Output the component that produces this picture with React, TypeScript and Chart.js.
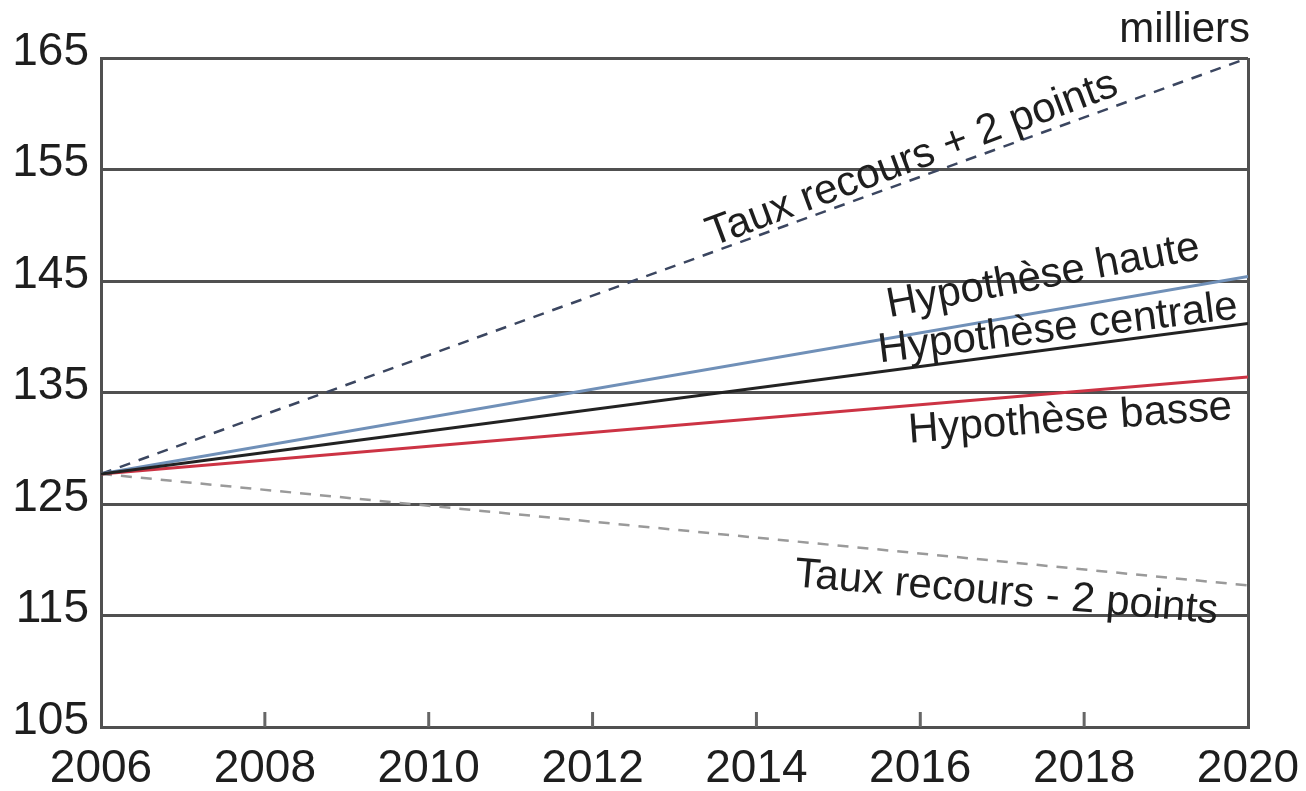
import React, { useEffect, useRef } from "react";
import { Chart, registerables } from "chart.js";

Chart.register(...registerables);

// ---- data ----
const years = [2006, 2020];
const tauxPlus2 = [127.7, 165];
const hypHaute = [127.7, 145.4];
const hypCentrale = [127.7, 141.2];
const hypBasse = [127.7, 136.4];
const tauxMoins2 = [127.7, 117.7];

const yTicks = [105, 115, 125, 135, 145, 155, 165];
const xTicks = [2006, 2008, 2010, 2012, 2014, 2016, 2018, 2020];
const unitLabel = "milliers";

// line annotations (anchor in data coords, angle in degrees)
const lineLabels = [
  { text: "Taux recours + 2 points", year: 2015.9, value: 155.9, angle: -20.5 },
  { text: "Hypothèse haute", year: 2017.5, value: 145.4, angle: -10.6 },
  { text: "Hypothèse centrale", year: 2017.68, value: 140.7, angle: -7 },
  { text: "Hypothèse basse", year: 2017.83, value: 132.6, angle: -4.2 },
  { text: "Taux recours - 2 points", year: 2017.05, value: 117.0, angle: 5 },
];

const FONT = "'Liberation Sans', Arial, sans-serif";
const GRID = "#505050";

const toPts = (vals: number[]) => vals.map((v, i) => ({ x: years[i], y: v }));

const annotationPlugin = {
  id: "annot",
  afterDatasetsDraw(chart: any) {
    const { ctx, scales, chartArea } = chart;
    const xs = scales.x;
    const ys = scales.y;
    ctx.save();
    // inner tick marks on the x axis
    ctx.strokeStyle = "#666";
    ctx.lineWidth = 3;
    xTicks.forEach((t, i) => {
      if (i === 0 || i === xTicks.length - 1) return;
      const px = xs.getPixelForValue(t);
      ctx.beginPath();
      ctx.moveTo(px, chartArea.bottom);
      ctx.lineTo(px, chartArea.bottom - 15);
      ctx.stroke();
    });
    // line labels
    ctx.fillStyle = "#1e1e1e";
    ctx.font = `42px ${FONT}`;
    ctx.textAlign = "center";
    ctx.textBaseline = "middle";
    lineLabels.forEach((l) => {
      const px = xs.getPixelForValue(l.year);
      const py = ys.getPixelForValue(l.value);
      ctx.save();
      ctx.translate(px, py);
      ctx.rotate((l.angle * Math.PI) / 180);
      ctx.fillText(l.text, 0, 0);
      ctx.restore();
    });
    // unit label
    ctx.textAlign = "right";
    ctx.textBaseline = "alphabetic";
    ctx.fillText(unitLabel, chartArea.right + 2, chartArea.top - 16);
    ctx.restore();
  },
};

export default function App() {
  const ref = useRef<HTMLCanvasElement | null>(null);

  useEffect(() => {
    document.body.style.margin = "0";
    const canvas = ref.current;
    if (!canvas) return;
    const chart = new Chart(canvas, {
      type: "line",
      data: {
        datasets: [
          {
            label: "Hypothèse centrale",
            data: toPts(hypCentrale),
            borderColor: "#222222",
            borderWidth: 3,
            pointRadius: 0,
          },
          {
            label: "Hypothèse haute",
            data: toPts(hypHaute),
            borderColor: "#7090b8",
            borderWidth: 3,
            pointRadius: 0,
          },
          {
            label: "Hypothèse basse",
            data: toPts(hypBasse),
            borderColor: "#cc3344",
            borderWidth: 3,
            pointRadius: 0,
          },
          {
            label: "Taux recours + 2 points",
            data: toPts(tauxPlus2),
            borderColor: "#3b4660",
            borderWidth: 2.5,
            borderDash: [11, 9],
            pointRadius: 0,
          },
          {
            label: "Taux recours - 2 points",
            data: toPts(tauxMoins2),
            borderColor: "#9a9a9a",
            borderWidth: 2.5,
            borderDash: [11, 9],
            pointRadius: 0,
          },
        ],
      },
      options: {
        responsive: false,
        animation: false,
        layout: { padding: { left: 0, right: 58, top: 58, bottom: 0 } },
        plugins: {
          legend: { display: false },
          tooltip: { enabled: false },
          title: { display: false },
        },
        scales: {
          x: {
            type: "linear",
            min: 2006,
            max: 2020,
            afterBuildTicks: (s: any) => {
              s.ticks = xTicks.map((v) => ({ value: v }));
            },
            afterFit: (s: any) => {
              s.height = 64;
              s.paddingLeft = 0;
              s.paddingRight = 0;
            },
            ticks: {
              color: "#1e1e1e",
              font: { size: 46, family: FONT },
              padding: 15,
              maxRotation: 0,
              autoSkip: false,
              callback: (v: any) => String(v),
            },
            grid: {
              drawTicks: false,
              lineWidth: 3,
              color: (c: any) =>
                c.tick && c.tick.value === 2020 ? GRID : "rgba(0,0,0,0)",
            },
            border: { display: true, color: GRID, width: 3 },
          },
          y: {
            type: "linear",
            min: 105,
            max: 165,
            afterBuildTicks: (s: any) => {
              s.ticks = yTicks.map((v) => ({ value: v }));
            },
            afterFit: (s: any) => {
              s.width = 101;
              s.paddingTop = 0;
              s.paddingBottom = 0;
            },
            ticks: {
              color: "#1e1e1e",
              font: { size: 46, family: FONT },
              padding: 12,
              labelOffset: -6,
              autoSkip: false,
            },
            grid: { drawTicks: false, lineWidth: 3, color: GRID },
            border: { display: true, color: GRID, width: 3 },
          },
        },
      },
      plugins: [annotationPlugin],
    });
    return () => chart.destroy();
  }, []);

  return (
    <div
      style={{
        position: "fixed",
        left: 0,
        top: 0,
        width: 1306,
        height: 791,
        background: "#fff",
      }}
    >
      <canvas ref={ref} width={1306} height={791} />
    </div>
  );
}
